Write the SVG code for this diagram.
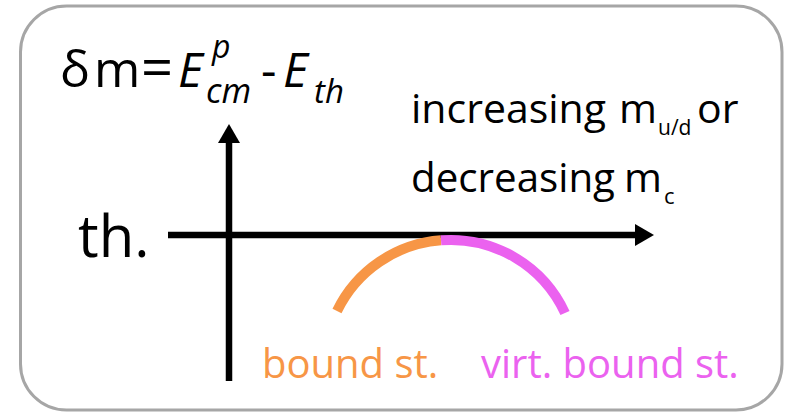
<svg xmlns="http://www.w3.org/2000/svg" width="789" height="414" viewBox="0 0 789 414">
<style>
  text { font-family: "Open Sans", "Liberation Sans", Arial, sans-serif; fill: #000; }
  .it { font-style: italic; }
  .axis { stroke: #000; stroke-width: 6.5; fill: none; }
  .orange { fill: #F79646; }
  .magenta { fill: #EB62EF; }
</style>
<defs>
  <marker id="arrow" markerUnits="userSpaceOnUse" viewBox="0 0 19 22" refX="1" refY="11" markerWidth="19" markerHeight="22" orient="auto">
    <path d="M0,0 L19,11 L0,22 z" fill="#000"/>
  </marker>
</defs>
<rect x="20.5" y="6" width="761.5" height="404" rx="46" ry="46" fill="#fff" stroke="#A6A6A6" stroke-width="3"/>

<g id="formula">
  <text x="60" y="87" font-size="50">δ</text>
  <text x="94" y="87" font-size="50">m</text>
  <text x="141" y="87" font-size="56">=</text>
  <text x="178" y="87" font-size="48" class="it">E</text>
  <text x="212" y="58" font-size="32" class="it">p</text>
  <text x="206" y="103" font-size="34" class="it">cm</text>
  <text x="261" y="87" font-size="48">-</text>
  <text x="283" y="87" font-size="48" class="it">E</text>
  <text x="314" y="103" font-size="33" class="it">th</text>
</g>

<g id="note">
  <text x="411" y="123" font-size="41">increasing</text>
  <text x="619" y="123" font-size="41">m</text>
  <text x="658" y="135" font-size="21">u/d</text>
  <text x="697" y="123" font-size="41">or</text>
  <text x="411" y="192" font-size="41" textLength="204" lengthAdjust="spacingAndGlyphs">decreasing</text>
  <text x="624" y="192" font-size="41">m</text>
  <text x="664" y="204" font-size="22">c</text>
</g>

<g id="threshold-label">
  <text x="78" y="257" font-size="58">th.</text>
</g>

<g id="connectors">
  <line class="axis" x1="229" y1="381" x2="229" y2="142" marker-end="url(#arrow)"/>
  <line class="axis" x1="168" y1="235" x2="636" y2="235" marker-end="url(#arrow)"/>
</g>

<g id="curve">
  <path d="M337,311 A126,126 0 0 1 441,240.3" fill="none" stroke="#F79646" stroke-width="10"/>
  <path d="M441,240.3 A126,126 0 0 1 565,313" fill="none" stroke="#EB62EF" stroke-width="10"/>
</g>

<g id="bound-label">
  <text x="262" y="378" font-size="40" class="orange">bound st.</text>
</g>
<g id="virtual-label">
  <text x="481" y="378" font-size="40" class="magenta">virt. bound st.</text>
</g>
</svg>
